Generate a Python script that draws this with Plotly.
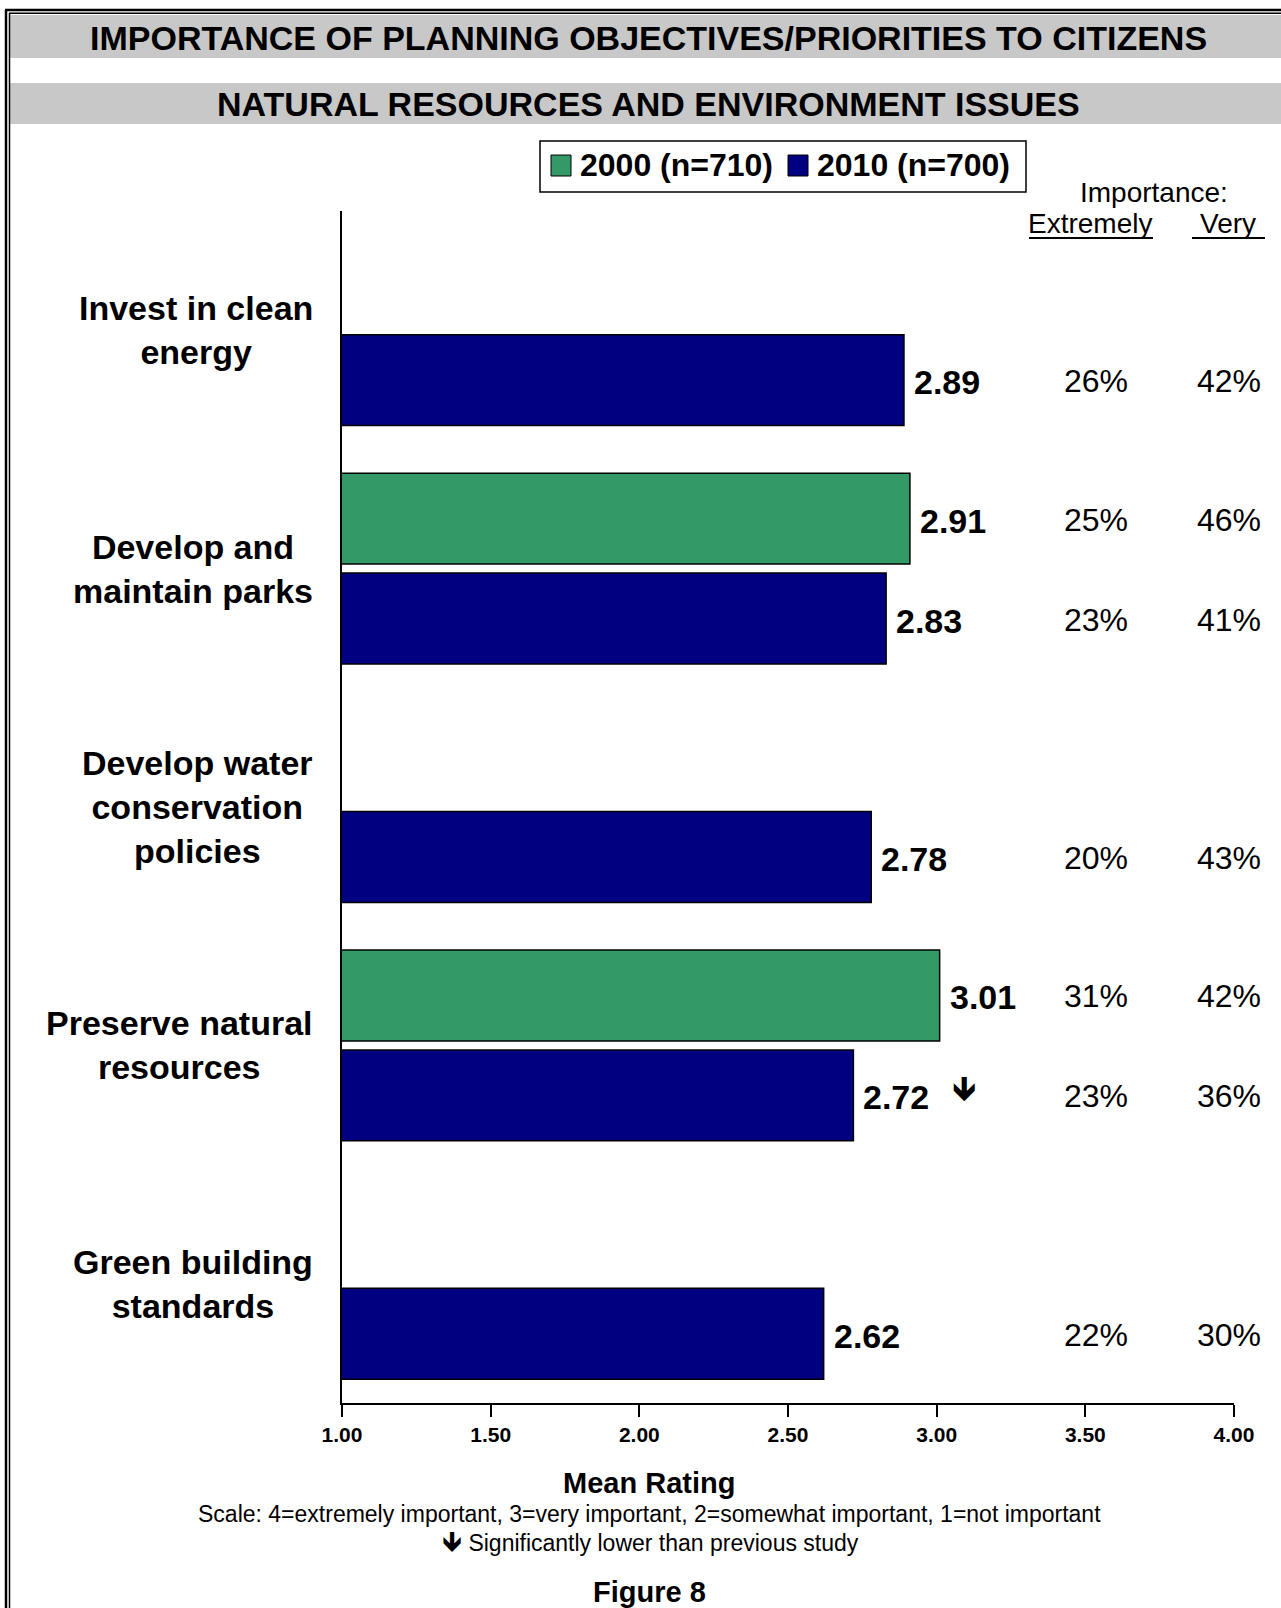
import plotly.graph_objects as go

# ---------------- data ----------------
categories = [
    "Invest in clean energy",
    "Develop and maintain parks",
    "Develop water conservation policies",
    "Preserve natural resources",
    "Green building standards",
]
category_labels = [
    "Invest in clean<br>energy",
    "Develop and<br>maintain parks",
    "Develop water<br>conservation<br>policies",
    "Preserve natural<br>resources",
    "Green building<br>standards",
]
mean_2000 = [None, 2.91, None, 3.01, None]
mean_2010 = [2.89, 2.83, 2.78, 2.72, 2.62]
extremely_2000 = [None, "25%", None, "31%", None]
very_2000 = [None, "46%", None, "42%", None]
extremely_2010 = ["26%", "23%", "20%", "23%", "22%"]
very_2010 = ["42%", "41%", "43%", "36%", "30%"]
sig_lower_2010 = [False, False, False, True, False]
x_ticks = [1.0, 1.5, 2.0, 2.5, 3.0, 3.5, 4.0]

# ---------------- layout constants (pixels) ----------------
W, H = 1281, 1608
L, R, T, B = 342, 1234, 211, 1403
FONT = "Arial, Liberation Sans, sans-serif"
ARROW_FONT = "DejaVu Sans"
ARROW = "\U0001F87B"
GREEN = "#339966"
NAVY = "#000080"
GROUP_SHIFT = 50


def px(xp):
    return (xp - L) / (R - L)


def py(yp):
    return (B - yp) / (B - T)


fig = go.Figure()
fig.add_trace(go.Bar(
    y=categories, x=mean_2000, orientation="h", name="2000 (n=710)",
    marker=dict(color=GREEN, line=dict(color="black", width=1.5)),
    showlegend=False, hoverinfo="x+name",
))
fig.add_trace(go.Bar(
    y=categories, x=mean_2010, orientation="h", name="2010 (n=700)",
    marker=dict(color=NAVY, line=dict(color="black", width=1.5)),
    showlegend=False, hoverinfo="x+name",
))

ann = []
shapes = []

# value labels and percentage columns
for series, ext, very, shift in [
    (mean_2000, extremely_2000, very_2000, GROUP_SHIFT),
    (mean_2010, extremely_2010, very_2010, -GROUP_SHIFT),
]:
    for cat, v, e, vy in zip(categories, series, ext, very):
        if v is None:
            continue
        ann.append(dict(x=v, y=cat, xref="x", yref="y", text=f"<b>{v:.2f}</b>",
                        xanchor="left", yanchor="middle", xshift=8, yshift=shift - 2,
                        showarrow=False, font=dict(size=34, color="black", family=FONT)))
        ann.append(dict(x=px(1096), y=cat, xref="paper", yref="y", text=e,
                        xanchor="center", yanchor="middle", yshift=shift - 1,
                        showarrow=False, font=dict(size=32, color="black", family=FONT)))
        ann.append(dict(x=px(1229), y=cat, xref="paper", yref="y", text=vy,
                        xanchor="center", yanchor="middle", yshift=shift - 1,
                        showarrow=False, font=dict(size=32, color="black", family=FONT)))

# significance arrows
for cat, v, s in zip(categories, mean_2010, sig_lower_2010):
    if s:
        ann.append(dict(x=v, y=cat, xref="x", yref="y", text=ARROW,
                        xanchor="center", yanchor="middle", xshift=111,
                        yshift=-GROUP_SHIFT + 7, showarrow=False,
                        font=dict(size=34, color="black", family=ARROW_FONT)))

# category labels
for cat, lab in zip(categories, category_labels):
    ann.append(dict(x=px(315), y=cat, xref="paper", yref="y", text=f"<b>{lab}</b>",
                    xanchor="right", yanchor="middle", align="center",
                    showarrow=False, font=dict(size=34, color="black", family=FONT)))

# title bands
shapes.append(dict(type="rect", xref="paper", yref="paper", x0=px(10), x1=px(1281),
                   y0=py(58), y1=py(15), fillcolor="#c8c8c8", line=dict(width=0), layer="below"))
shapes.append(dict(type="rect", xref="paper", yref="paper", x0=px(10), x1=px(1281),
                   y0=py(124), y1=py(83), fillcolor="#c8c8c8", line=dict(width=0), layer="below"))
ann.append(dict(x=px(648), y=py(38), xref="paper", yref="paper",
                text="<b>IMPORTANCE OF PLANNING OBJECTIVES/PRIORITIES TO CITIZENS</b>",
                showarrow=False, xanchor="center", yanchor="middle",
                font=dict(size=34, color="black", family=FONT)))
ann.append(dict(x=px(648), y=py(104), xref="paper", yref="paper",
                text="<b>NATURAL RESOURCES AND ENVIRONMENT ISSUES</b>",
                showarrow=False, xanchor="center", yanchor="middle",
                font=dict(size=34, color="black", family=FONT)))

# page double border (left + top)
shapes.append(dict(type="line", xref="paper", yref="paper", x0=px(6), x1=px(6),
                   y0=py(10), y1=py(1608), line=dict(color="black", width=2.5)))
shapes.append(dict(type="line", xref="paper", yref="paper", x0=px(9.5), x1=px(9.5),
                   y0=py(13), y1=py(1608), line=dict(color="black", width=1.5)))
shapes.append(dict(type="line", xref="paper", yref="paper", x0=px(5), x1=px(1281),
                   y0=py(10), y1=py(10), line=dict(color="black", width=2.5)))
shapes.append(dict(type="line", xref="paper", yref="paper", x0=px(9), x1=px(1281),
                   y0=py(13.3), y1=py(13.3), line=dict(color="black", width=1.5)))

# manual legend
shapes.append(dict(type="rect", xref="paper", yref="paper", x0=px(540), x1=px(1026),
                   y0=py(192), y1=py(141), fillcolor="white", line=dict(color="black", width=1.5)))
for x0, col, txt in [(551, GREEN, "2000 (n=710)"), (788, NAVY, "2010 (n=700)")]:
    shapes.append(dict(type="rect", xref="paper", yref="paper", x0=px(x0), x1=px(x0 + 20),
                       y0=py(176), y1=py(155), fillcolor=col, line=dict(color="black", width=1)))
    ann.append(dict(x=px(x0 + 27), y=py(165), xref="paper", yref="paper", text=f"<b>{txt}</b>",
                    xanchor="left", yanchor="middle", showarrow=False,
                    font=dict(size=32, color="black", family=FONT)))

# importance headers
ann.append(dict(x=px(1154), y=py(192), xref="paper", yref="paper", text="Importance:",
                xanchor="center", yanchor="middle", showarrow=False,
                font=dict(size=28, color="black", family=FONT)))
ann.append(dict(x=px(1090), y=py(223), xref="paper", yref="paper", text="Extremely",
                xanchor="center", yanchor="middle", showarrow=False,
                font=dict(size=28, color="black", family=FONT)))
ann.append(dict(x=px(1228), y=py(223), xref="paper", yref="paper", text="Very",
                xanchor="center", yanchor="middle", showarrow=False,
                font=dict(size=28, color="black", family=FONT)))
shapes.append(dict(type="line", xref="paper", yref="paper", x0=px(1029), x1=px(1153),
                   y0=py(238), y1=py(238), line=dict(color="black", width=2)))
shapes.append(dict(type="line", xref="paper", yref="paper", x0=px(1192), x1=px(1265),
                   y0=py(238), y1=py(238), line=dict(color="black", width=2)))

# bottom texts
ann.append(dict(x=px(649), y=py(1483), xref="paper", yref="paper", text="<b>Mean Rating</b>",
                xanchor="center", yanchor="middle", showarrow=False,
                font=dict(size=29, color="black", family=FONT)))
ann.append(dict(x=px(649), y=py(1514), xref="paper", yref="paper",
                text="Scale: 4=extremely important, 3=very important, 2=somewhat important, 1=not important",
                xanchor="center", yanchor="middle", showarrow=False,
                font=dict(size=23, color="black", family=FONT)))
ann.append(dict(x=px(650), y=py(1541), xref="paper", yref="paper",
                text=f"<span style='font-family:{ARROW_FONT};font-size:28px'>{ARROW}</span> Significantly lower than previous study",
                xanchor="center", yanchor="middle", showarrow=False,
                font=dict(size=23, color="black", family=FONT)))
ann.append(dict(x=px(649), y=py(1592), xref="paper", yref="paper", text="<b>Figure 8</b>",
                xanchor="center", yanchor="middle", showarrow=False,
                font=dict(size=29, color="black", family=FONT)))

fig.update_layout(
    width=W, height=H,
    margin=dict(l=L, r=W - R, t=T, b=H - B, pad=0),
    paper_bgcolor="white", plot_bgcolor="white",
    barmode="group", bargap=0.162, bargroupgap=0.09,
    font=dict(family=FONT, color="black"),
    annotations=ann, shapes=shapes,
    xaxis=dict(range=[1, 4], tickvals=x_ticks, tickformat=".2f",
               showgrid=False, zeroline=False, showline=True, linecolor="black", linewidth=2,
               ticks="outside", ticklen=12, tickwidth=1.5, tickcolor="black",
               tickfont=dict(size=21, family=FONT, color="black", weight="bold")),
    yaxis=dict(categoryorder="array", categoryarray=categories, autorange="reversed",
               showticklabels=False, showgrid=False, zeroline=False,
               showline=True, linecolor="black", linewidth=1.5, ticks=""),
)

fig.write_html("out.html")
